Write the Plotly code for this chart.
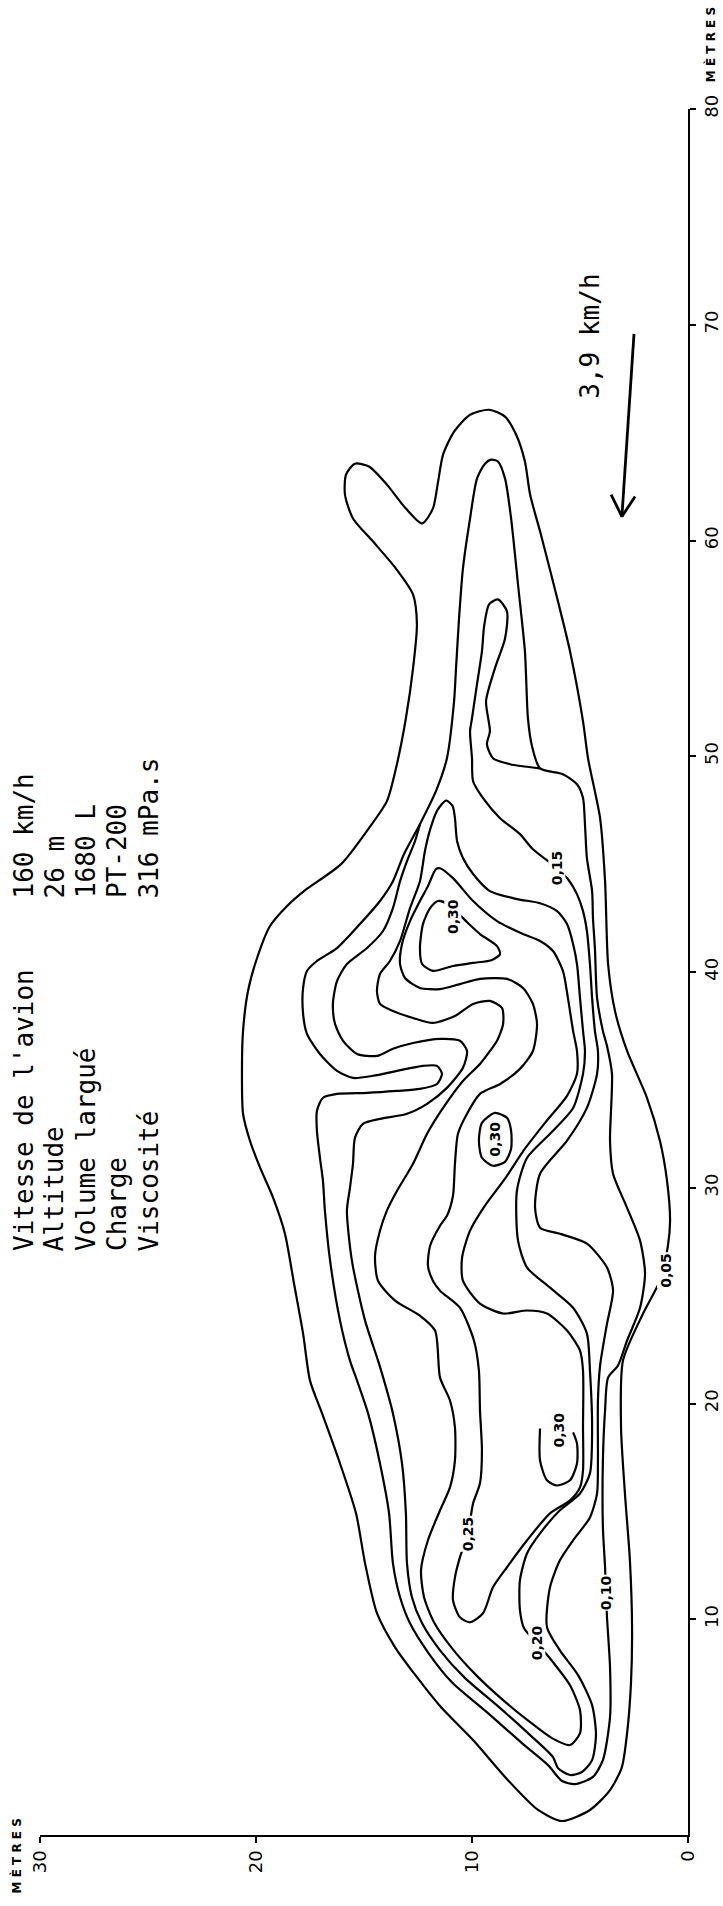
import plotly.graph_objects as go

# ---------------- data (metres) ----------------
# each point = (across the drop line [0-30 m], along the flight line [0-80 m])
x_tick_values = [0, 10, 20, 30]
x_tick_labels = ["0", "10", "20", "30"]
y_tick_values = [10, 20, 30, 40, 50, 60, 70, 80]
y_tick_labels = ["10", "20", "30", "40", "50", "60", "70", "80"]

contour_005 = [(5.83,0.65),(4.54,1.16),(3.61,2.08),(3.06,3.15),(2.82,4.72),(2.64,7.04),(2.59,9.63),(2.69,12.73),
    (2.92,15.83),(3.10,18.89),(3.01,21.99),(2.08,24.17),(1.30,25.69),(0.93,27.31),(0.83,28.47),(0.97,30.32),
    (1.30,32.18),(1.90,34.17),(2.82,36.34),(3.38,38.19),(3.70,40.37),(3.84,44.21),(4.07,47.13),(4.63,49.91),
    (4.86,51.62),(5.46,54.86),(6.02,57.18),(6.81,60.28),(7.31,62.13),(7.55,63.66),(7.96,64.91),(8.47,65.74),
    (9.21,66.06),(10.09,65.83),(10.83,65.05),(11.34,63.98),(11.57,62.73),(11.81,61.48),(12.31,60.79),(13.06,61.48),
    (13.94,62.59),(14.77,63.43),(15.42,63.56),(15.83,63.06),(15.88,62.13),(15.51,61.02),(14.58,59.95),(13.52,58.70),
    (12.73,57.50),(12.55,56.11),(12.73,54.07),(13.06,51.76),(13.52,49.44),(13.94,47.92),(14.77,46.67),(16.06,45.00),
    (17.78,43.75),(18.56,43.06),(19.35,42.13),(19.95,40.65),(20.37,39.12),(20.60,37.27),(20.65,35.28),(20.60,33.43),
    (20.28,32.18),(19.81,30.93),(19.21,29.54),(18.66,27.87),(18.24,25.56),(17.82,23.24),(17.50,21.06),(16.94,19.54),
    (16.11,17.22),(15.37,14.91),(14.95,12.59),(14.40,10.28),(13.56,8.70),(12.69,7.50),(11.44,5.93),(9.95,4.40),
    (8.47,2.69),(6.94,1.16)]

contour_010 = [(10.60,56.39),(10.42,58.70),(10.09,61.02),(9.77,62.87),(9.40,63.56),(9.12,63.75),(8.80,63.66),
    (8.47,62.87),(8.19,61.02),(7.87,57.96),(7.55,54.86),(7.41,51.76),(7.22,50.46),(6.85,49.44),(5.79,49.17),
    (5.14,48.70),(4.86,48.06),(4.77,46.85),(4.68,45.28),(4.44,43.75),(4.40,42.50),(4.31,41.11),(4.21,38.80),
    (3.94,37.27),(3.75,36.57),(3.52,35.28),(3.61,32.18),(3.47,30.65),(2.82,29.07),(2.22,27.55),(1.99,26.02),
    (2.22,24.44),(2.82,22.92),(3.24,21.76),(3.70,21.20),(3.84,19.68),(3.94,17.36),(3.94,14.26),(3.84,12.41),
    (3.80,11.25),(3.75,10.09),(3.61,7.78),(3.61,5.46),(3.94,3.47),(4.40,2.69),(5.23,2.36),(5.83,2.50),(6.48,3.24),
    (7.69,4.26),(9.26,5.65),(10.93,7.08),(12.04,8.47),(12.87,9.81),(13.33,11.02),(13.66,12.59),(13.84,14.91),
    (14.26,17.22),(14.81,19.54),(15.32,21.06),(15.65,21.99),(16.11,23.84),(16.57,26.62),(16.81,28.94),(16.90,30.32),
    (17.04,31.39),(17.18,32.64),(17.18,33.56),(16.90,34.17),(16.25,34.35),(14.86,34.40),(13.47,34.49),(12.41,34.58),
    (11.62,34.81),(11.39,35.28),(11.62,35.65),(12.27,35.65),(13.47,35.42),(14.58,35.19),(15.51,35.09),(16.25,35.42),
    (17.04,36.20),(17.64,37.13),(17.82,38.06),(17.82,39.26),(17.64,40.05),(17.18,40.51),(16.25,41.11),(15.19,42.22),
    (14.26,43.29),(13.66,44.21),(13.15,45.46),(12.41,46.85),(11.67,48.38),(11.16,49.91),(10.83,52.55),(10.74,54.07)]

contour_015 = [(6.85,49.44),(8.24,49.63),(9.03,49.91),(9.31,50.56),(9.17,51.16),(9.35,52.55),(8.94,54.07),
    (8.47,55.46),(8.38,56.71),(8.80,57.27),(9.21,57.04),(9.44,56.02),(9.54,54.86),(9.77,53.33),(10.00,51.76),
    (10.09,51.16),(10.00,49.91),(9.95,48.84),(9.49,48.06),(8.70,47.13),(7.78,46.39),(7.18,45.69),(6.06,44.81),
    (5.56,44.31),(5.14,43.61),(4.86,42.82),(4.68,41.90),(4.54,40.37),(4.44,38.80),(4.31,37.27),(4.17,36.34),
    (4.21,35.28),(4.68,33.70),(5.60,32.18),(6.85,30.65),(7.08,29.07),(6.85,28.15),(5.93,27.87),(4.68,27.41),
    (3.75,26.30),(3.47,25.23),(3.75,23.70),(4.07,21.76),(4.17,20.14),(4.17,17.36),(4.21,15.83),(4.54,14.72),
    (5.32,13.66),(5.93,12.73),(6.39,11.48),(6.53,9.63),(5.93,8.56),(5.09,7.41),(4.44,6.02),(4.26,4.63),(4.44,3.47),
    (4.91,2.92),(5.46,2.78),(6.02,3.10),(6.25,3.61),(7.31,4.63),(8.80,5.97),(10.32,7.27),(11.48,8.56),(12.31,9.81),
    (12.78,11.02),(13.01,12.59),(13.06,14.91),(13.24,17.22),(13.66,19.54),(14.07,21.06),(14.35,21.99),(14.95,23.84),
    (15.56,26.62),(15.79,28.94),(15.65,30.00),(15.51,31.11),(15.42,32.31),(15.05,32.96),(14.26,33.19),(13.01,33.43),
    (12.08,33.89),(11.16,34.63),(10.42,35.56),(10.23,36.34),(10.56,36.81),(11.48,36.90),(12.73,36.71),(13.66,36.44),
    (14.40,36.11),(15.32,36.20),(15.97,36.81),(16.34,37.59),(16.44,38.52),(16.25,39.58),(15.79,40.37),(14.86,41.11),
    (14.12,41.90),(13.66,42.96),(13.33,44.21),(13.01,45.14),(12.64,46.06),(12.41,46.85)]

contour_020 = [(11.20,47.95),(10.90,47.70),(10.79,47.13),(10.69,46.06),(10.42,45.28),(9.95,44.54),(9.17,43.75),
    (7.92,43.38),(6.85,43.19),(6.06,42.82),(5.60,42.22),(5.32,41.30),(5.14,40.37),(5.00,38.80),(4.86,37.27),
    (4.77,36.34),(4.86,35.28),(5.32,33.70),(6.39,32.50),(7.45,31.39),(7.92,29.86),(7.87,27.55),(7.45,26.30),
    (6.39,25.37),(5.32,24.44),(4.68,23.24),(4.54,21.53),(4.44,18.89),(4.54,16.76),(5.00,15.83),(5.93,15.05),
    (6.85,13.98),(7.45,13.06),(7.78,11.81),(7.78,10.42),(7.59,9.58),(6.99,8.89),(6.25,8.01),(5.46,6.94),(5.00,5.79),
    (5.00,4.72),(5.46,4.17),(6.30,4.49),(7.31,5.23),(8.56,6.25),(9.81,7.41),(10.93,8.66),(11.76,9.86),(12.22,11.02),
    (12.36,12.27),(12.04,13.66),(11.48,15.05),(11.02,16.11),(10.79,17.36),(10.79,18.89),(11.02,20.14),(11.48,21.20),
    (11.71,23.38),(12.41,24.07),(13.56,24.77),(14.35,25.69),(14.49,26.85),(14.26,28.01),(13.94,28.94),(13.47,29.86),
    (12.73,31.11),(12.08,32.50),(11.34,33.70),(10.42,34.95),(9.63,35.74),(9.17,36.34),(8.84,36.81),(8.56,37.59),
    (8.61,38.33),(9.17,38.66),(9.95,38.52),(10.79,37.96),(11.81,37.64),(12.73,37.87),(13.66,38.19),(14.26,38.52),
    (14.40,39.12),(14.26,39.91),(13.80,40.51),(13.33,41.44),(12.87,42.96),(12.41,44.21),(12.18,45.60),(11.94,46.60),
    (11.60,47.50)]

contour_025 = [(11.67,44.77),(11.48,44.81),(10.88,44.35),(9.95,43.29),(8.84,42.36),(7.64,41.76),(6.85,41.44),
    (6.25,40.97),(5.79,40.05),(5.56,38.80),(5.32,37.27),(5.14,36.34),(5.14,35.28),(5.60,34.26),(6.62,33.01),
    (7.55,31.81),(8.47,30.42),(9.40,29.17),(10.09,28.01),(10.46,26.76),(10.42,25.69),(9.63,24.63),(8.56,24.17),
    (7.45,24.31),(6.53,24.17),(5.60,23.38),(5.00,22.45),(4.86,21.53),(4.86,18.89),(4.86,16.90),(5.00,16.11),
    (5.46,15.51),(6.39,14.91),(7.45,13.66),(8.38,12.41),(9.03,11.48),(9.49,10.28),(10.09,9.86),(10.56,10.09),
    (10.88,10.88),(10.79,11.94),(10.56,12.87),(10.19,13.98),(9.95,15.37),(9.63,16.30),(9.54,17.82),(9.63,19.68),
    (9.68,21.53),(9.91,22.92),(10.56,24.44),(11.48,25.23),(11.81,25.69),(12.04,26.39),(11.94,27.31),(11.48,28.24),
    (11.16,28.70),(10.88,29.63),(10.79,31.11),(10.65,32.50),(10.23,33.43),(9.63,34.35),(8.70,34.81),(7.78,35.51),
    (7.18,36.34),(6.99,37.59),(7.18,38.52),(7.64,39.26),(8.38,39.68),(9.63,39.68),(10.56,39.44),(11.48,39.21),
    (12.41,39.26),(13.10,39.72),(13.33,40.37),(13.24,41.30),(12.87,42.36),(12.41,43.29),(12.04,43.98)]

contour_030_north = [(11.57,43.29),(11.94,42.96),(12.27,42.22),(12.41,41.11),(12.31,40.37),(11.81,40.05),
    (10.88,40.28),(9.95,40.42),(9.07,40.56),(8.70,40.83),(8.84,41.20),(9.63,41.76),(10.19,42.27),(10.65,42.73),
    (11.11,43.15)]
contour_030_middle = [(8.94,33.47),(8.38,33.24),(8.19,32.64),(8.19,31.81),(8.47,31.20),(9.03,31.02),(9.54,31.39),
    (9.68,32.18),(9.54,33.01)]
contour_030_south = [(6.85,18.84),(6.85,17.36),(6.53,16.44),(6.06,16.20),(5.46,16.44),(5.14,17.22),(5.14,18.15),
    (5.32,18.66)]

contour_labels = [("0,05", 1.06, 26.16), ("0,10", 3.80, 11.25), ("0,15", 6.06, 44.81), ("0,20", 6.99, 8.89),
    ("0,25", 10.19, 13.98), ("0,30", 5.97, 18.75), ("0,30", 8.94, 32.27), ("0,30", 10.88, 42.59)]

info_labels = ["Vitesse de l'avion", "Altitude", "Volume largué", "Charge", "Viscosité"]
info_values = ["160 km/h", "26 m", "1680 L", "PT-200", "316 mPa.s"]
wind_speed_text = "3,9 km/h"
wind_speed_position = (4.54, 69.49)
wind_arrow_shaft = [(2.50, 69.58), (3.06, 61.11)]
wind_arrow_head = [(3.56, 62.13), (3.06, 61.11), (2.45, 62.04)]
axis_unit = "M È T R E S"

# ---------------- figure ----------------
X_RANGE = [30, 0]
Y_RANGE = [0, 80]
fig = go.Figure()


def add_line(points, closed=False, width=2.2, shape="spline"):
    pts = list(points) + ([points[0]] if closed else [])
    fig.add_trace(go.Scatter(
        x=[p[0] for p in pts], y=[p[1] for p in pts], mode="lines",
        line=dict(color="black", width=width, shape=shape, smoothing=0.7),
        hoverinfo="skip", showlegend=False))


add_line(contour_005, closed=True)
add_line(contour_010, closed=True)
add_line(contour_015)
add_line(contour_020, closed=True)
add_line(contour_025, closed=True)
add_line(contour_030_north, closed=True)
add_line(contour_030_middle, closed=True)
add_line(contour_030_south)
add_line(wind_arrow_shaft, width=2.8, shape="linear")
add_line(wind_arrow_head, width=2.8, shape="linear")

annotations = []
for txt, a, s in contour_labels:
    annotations.append(dict(x=a, y=s, xref="x", yref="y", text="<b>%s</b>" % txt, showarrow=False,
                            textangle=-90, xanchor="center", yanchor="middle", bgcolor="white", borderpad=0,
                            font=dict(family="DejaVu Sans", size=14, color="black")))

annotations.append(dict(x=wind_speed_position[0], y=wind_speed_position[1], xref="x", yref="y",
                        text=wind_speed_text, showarrow=False, textangle=-90, xanchor="center", yanchor="middle",
                        font=dict(family="DejaVu Sans Mono", size=26, color="black")))

info_columns = [-0.0247, 0.0231, 0.0710, 0.1188, 0.1682]
for col, lab, val in zip(info_columns, info_labels, info_values):
    annotations.append(dict(x=col, y=0.3372, xref="paper", yref="paper", text=lab, showarrow=False,
                            textangle=-90, xanchor="center", yanchor="bottom",
                            font=dict(family="DejaVu Sans Mono", size=26, color="black")))
    annotations.append(dict(x=col, y=0.5417, xref="paper", yref="paper", text=val, showarrow=False,
                            textangle=-90, xanchor="center", yanchor="bottom",
                            font=dict(family="DejaVu Sans Mono", size=26, color="black")))

for px, py in [(-0.0365, -0.0122), (1.034, 1.037)]:
    annotations.append(dict(x=px, y=py, xref="paper", yref="paper", text="<b>%s</b>" % axis_unit,
                            showarrow=False, textangle=-90, xanchor="center", yanchor="middle",
                            font=dict(family="DejaVu Sans", size=12, color="black")))

axis_common = dict(showgrid=False, zeroline=False, showline=True, linecolor="black", linewidth=2.2,
                   ticks="outside", ticklen=6, tickwidth=2, tickcolor="black", tickangle=-90,
                   tickfont=dict(family="DejaVu Sans", size=18, color="black"), automargin=False,
                   fixedrange=True, mirror=False)

fig.update_layout(
    width=723, height=1906,
    margin=dict(l=40, r=35, t=109, b=71, pad=0),
    paper_bgcolor="white", plot_bgcolor="white",
    xaxis=dict(range=X_RANGE, autorange=False, tickvals=x_tick_values, ticktext=x_tick_labels, **axis_common),
    yaxis=dict(range=Y_RANGE, autorange=False, side="right", tickvals=y_tick_values, ticktext=y_tick_labels,
               **axis_common),
    annotations=annotations,
    showlegend=False,
)

fig.write_html("out.html")
